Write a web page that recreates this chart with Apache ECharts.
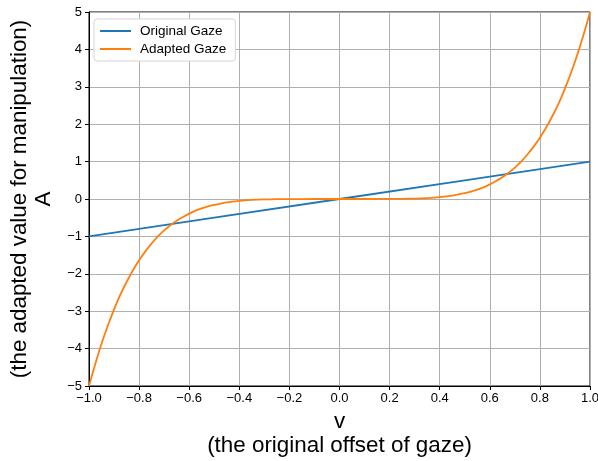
<!DOCTYPE html>
<html>
<head>
<meta charset="utf-8">
<script src="https://cdn.jsdelivr.net/npm/echarts@6/dist/echarts.min.js"></script>
<style>
  html, body { margin: 0; padding: 0; background: #fff; }
  #main { width: 598px; height: 461px; }
</style>
</head>
<body>
<div id="main"></div>
<script>
// original gaze is a straight line through these points
const origV = [-1.0, -0.5, 0.0, 0.5, 1.0];
const originalGaze = [-1.0, -0.5, 0.0, 0.5, 1.0];

// adapted gaze (denser where it bends)
const adaptV = [
  -1.0, -0.975, -0.95, -0.925, -0.9, -0.875, -0.85, -0.825, -0.8, -0.775,
  -0.75, -0.725, -0.7, -0.675, -0.65, -0.625, -0.6, -0.575, -0.55, -0.525,
  -0.5, -0.45, -0.4, -0.35, -0.3, -0.25, -0.2, -0.1, 0.0,
  0.1, 0.2, 0.25, 0.3, 0.35, 0.4, 0.45, 0.5,
  0.525, 0.55, 0.575, 0.6, 0.625, 0.65, 0.675, 0.7, 0.725, 0.75,
  0.775, 0.8, 0.825, 0.85, 0.875, 0.9, 0.925, 0.95, 0.975, 1.0
];
const adaptedGaze = [
  -5.0, -4.41, -3.87, -3.39, -2.95, -2.56, -2.22, -1.91, -1.64, -1.40,
  -1.19, -1.0, -0.84, -0.70, -0.58, -0.48, -0.39, -0.31, -0.25, -0.20,
  -0.16, -0.09, -0.05, -0.026, -0.012, -0.005, -0.002, 0.0, 0.0,
  0.0, 0.002, 0.005, 0.012, 0.026, 0.05, 0.09, 0.16,
  0.20, 0.25, 0.31, 0.39, 0.48, 0.58, 0.70, 0.84, 1.0, 1.19,
  1.40, 1.64, 1.91, 2.22, 2.56, 2.95, 3.39, 3.87, 4.41, 5.0
];

const pair = (xs, ys) => xs.map((x, i) => [x, ys[i]]);
const minus = s => String(s).replace('-', '\u2212');
const font = 'Liberation Sans, Arial, sans-serif';

const chart = echarts.init(document.getElementById('main'));
chart.setOption({
  animation: false,
  backgroundColor: '#fff',
  textStyle: { fontFamily: font },
  grid: {
    left: 89, right: 8, top: 12, bottom: 75,
    outerBoundsMode: 'none', containLabel: false,
    show: true, borderColor: '#000', borderWidth: 1
  },
  legend: {
    left: 94, top: 19,
    orient: 'vertical',
    itemWidth: 31, itemHeight: 2, itemGap: 4,
    backgroundColor: '#fff',
    borderColor: '#d5d5d5', borderWidth: 1, borderRadius: 3,
    padding: [5, 9, 5, 6],
    textStyle: { fontSize: 13.5, color: '#000', fontFamily: font, padding: [0, 0, 0, 4] },
    icon: 'rect',
    data: ['Original Gaze', 'Adapted Gaze']
  },
  xAxis: {
    type: 'value', min: -1, max: 1, interval: 0.2,
    name: 'v\n(the original offset of gaze)',
    nameLocation: 'middle', nameGap: 23,
    nameTextStyle: { fontSize: 22.4, color: '#000', lineHeight: 24, verticalAlign: 'top', fontFamily: font },
    axisLine: { onZero: false, lineStyle: { color: '#000' } },
    axisTick: { show: true, length: 4, lineStyle: { color: '#000' } },
    axisLabel: { color: '#000', fontSize: 13, margin: 6, formatter: v => minus(v.toFixed(1)) },
    splitLine: { show: true, lineStyle: { color: '#b0b0b0', width: 1 } }
  },
  yAxis: {
    type: 'value', min: -5, max: 5, interval: 1,
    name: '(the adapted value for manipulation)\nA',
    nameLocation: 'middle', nameGap: 31, nameRotate: 90,
    nameTextStyle: { fontSize: 22.4, color: '#000', lineHeight: 24, fontFamily: font },
    axisLine: { onZero: false, lineStyle: { color: '#000' } },
    axisTick: { show: true, length: 4, lineStyle: { color: '#000' } },
    axisLabel: { color: '#000', fontSize: 13, margin: 7, formatter: v => minus(v) },
    splitLine: { show: true, lineStyle: { color: '#b0b0b0', width: 1 } }
  },
  series: [
    {
      name: 'Original Gaze', type: 'line', showSymbol: false,
      color: '#1f77b4', lineStyle: { width: 1.8 },
      data: pair(origV, originalGaze)
    },
    {
      name: 'Adapted Gaze', type: 'line', showSymbol: false,
      smooth: 0.25,
      color: '#ff7f0e', lineStyle: { width: 1.8 },
      data: pair(adaptV, adaptedGaze)
    }
  ]
});
</script>
</body>
</html>
